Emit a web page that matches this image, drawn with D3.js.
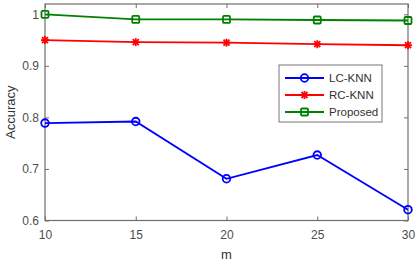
<!DOCTYPE html>
<html><head><meta charset="utf-8">
<script src="https://cdn.jsdelivr.net/npm/d3@7"></script>
<style>body{margin:0;background:#fff;}svg{display:block;font-family:"Liberation Sans",Arial,sans-serif;}</style>
</head><body>
<svg id="c" width="420" height="264"></svg>
<script>
const mValues = [10, 15, 20, 25, 30];
const lcKnn = [0.789, 0.792, 0.681, 0.727, 0.621];
const rcKnn = [0.950, 0.946, 0.945, 0.942, 0.940];
const proposed = [1.000, 0.990, 0.990, 0.989, 0.988];
const yTicks = [0.6, 0.7, 0.8, 0.9, 1];
const seriesNames = ["LC-KNN", "RC-KNN", "Proposed"];

const svg = d3.select("#c");
const L = 45, R = 408, T = 4, B = 220.5;
const x = d3.scaleLinear().domain([10, 30]).range([L, R]);
const y = d3.scaleLinear().domain([0.6, 1.02]).range([B, T]);
const axisCol = "#6e6e6e", textCol = "#4d4d4d";

// box
svg.append("rect").attr("x", L).attr("y", T).attr("width", R - L).attr("height", B - T)
  .attr("fill", "none").attr("stroke", axisCol).attr("stroke-width", 1.2);

// ticks (inward) and labels
const xa = svg.append("g").attr("transform", `translate(0,${B})`)
  .call(d3.axisBottom(x).tickValues(mValues).tickSize(-4).tickPadding(10).tickFormat(d3.format("d")));
const xt = svg.append("g").attr("transform", `translate(0,${T})`)
  .call(d3.axisTop(x).tickValues(mValues).tickSize(-4).tickFormat(""));
const ya = svg.append("g").attr("transform", `translate(${L},0)`)
  .call(d3.axisLeft(y).tickValues(yTicks).tickSize(-4).tickPadding(6).tickFormat(d => d === 1 ? "1" : d3.format(".1f")(d)));
const yr = svg.append("g").attr("transform", `translate(${R},0)`)
  .call(d3.axisRight(y).tickValues(yTicks).tickSize(-4).tickFormat(""));
[xa, xt, ya, yr].forEach(g => {
  g.select(".domain").remove();
  g.selectAll("line").attr("stroke", axisCol);
  g.selectAll("text").attr("fill", textCol).style("font-size", "12px").attr("font-family", "Liberation Sans, Arial, sans-serif");
});

svg.append("text").attr("x", (L + R) / 2).attr("y", 259).attr("text-anchor", "middle")
  .attr("fill", "#333").style("font-size", "13px").text("m");
svg.append("text").attr("transform", `translate(15,${(T + B) / 2}) rotate(-90)`).attr("text-anchor", "middle")
  .attr("fill", "#333").style("font-size", "13px").text("Accuracy");

const series = [
  {name: seriesNames[0], vals: lcKnn, color: "#0000ff", marker: "circle"},
  {name: seriesNames[1], vals: rcKnn, color: "#ff0000", marker: "star"},
  {name: seriesNames[2], vals: proposed, color: "#008000", marker: "square"}
];
const line = d3.line().x((d, i) => x(mValues[i])).y(d => y(d));

function drawMarker(g, type, cx, cy, color) {
  if (type === "circle") {
    g.append("circle").attr("cx", cx).attr("cy", cy).attr("r", 3.8).attr("fill", "none").attr("stroke", color).attr("stroke-width", 1.8);
  } else if (type === "square") {
    g.append("rect").attr("x", cx - 3.5).attr("y", cy - 3.5).attr("width", 7).attr("height", 7).attr("rx", 1)
      .attr("fill", "none").attr("stroke", color).attr("stroke-width", 1.8);
  } else {
    const s = 4;
    [[-s,0,s,0],[0,-s,0,s],[-s*0.75,-s*0.75,s*0.75,s*0.75],[-s*0.75,s*0.75,s*0.75,-s*0.75]].forEach(p => {
      g.append("line").attr("x1", cx + p[0]).attr("y1", cy + p[1]).attr("x2", cx + p[2]).attr("y2", cy + p[3])
        .attr("stroke", color).attr("stroke-width", 1.8);
    });
  }
}

series.forEach(s => {
  const g = svg.append("g");
  g.append("path").datum(s.vals).attr("d", line).attr("fill", "none").attr("stroke", s.color).attr("stroke-width", 1.8);
  s.vals.forEach((v, i) => drawMarker(g, s.marker, x(mValues[i]), y(v), s.color));
});

// legend
const lg = svg.append("g");
lg.append("rect").attr("x", 279).attr("y", 65).attr("width", 103).attr("height", 57)
  .attr("fill", "#fff").attr("stroke", "#777").attr("stroke-width", 1);
series.forEach((s, i) => {
  const yy = 78 + i * 17;
  lg.append("line").attr("x1", 285).attr("x2", 324).attr("y1", yy).attr("y2", yy).attr("stroke", s.color).attr("stroke-width", 1.8);
  drawMarker(lg, s.marker, 304.5, yy, s.color);
  lg.append("text").attr("x", 329).attr("y", yy + 4).attr("fill", "#333").style("font-size", "11.5px").text(s.name);
});
</script>
</body></html>
